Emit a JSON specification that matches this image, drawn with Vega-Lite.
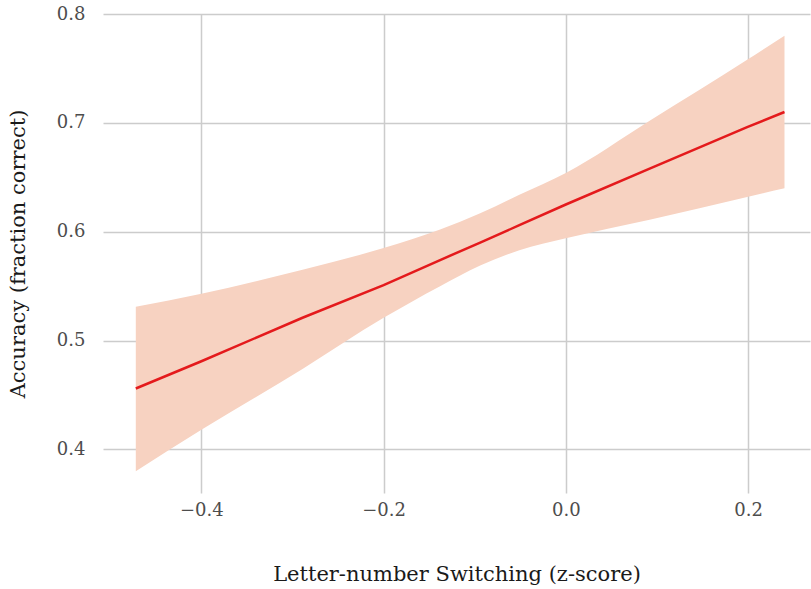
{
  "$schema": "https://vega.github.io/schema/vega-lite/v6.json",
  "width": 707,
  "height": 479,
  "autosize": "none",
  "padding": {"left": 103, "top": 14, "right": 1, "bottom": 96},
  "background": "white",
  "config": {
    "view": {"stroke": null},
    "font": "DejaVu Serif",
    "axis": {
      "domain": false,
      "ticks": false,
      "gridColor": "#cccccc",
      "gridWidth": 1.5,
      "labelFont": "DejaVu Serif",
      "labelFontSize": 18,
      "labelColor": "#4d4d4d",
      "titleFont": "DejaVu Serif",
      "titleFontSize": 21,
      "titleFontWeight": "normal",
      "titleColor": "#1a1a1a"
    }
  },
  "data": {
    "values": [
      {"x": -0.472, "lo": 0.380, "hi": 0.531, "fit": 0.456},
      {"x": -0.400, "lo": 0.418, "hi": 0.543, "fit": 0.481},
      {"x": -0.289, "lo": 0.474, "hi": 0.565, "fit": 0.521},
      {"x": -0.200, "lo": 0.521, "hi": 0.585, "fit": 0.551},
      {"x": -0.138, "lo": 0.550, "hi": 0.602, "fit": 0.574},
      {"x": -0.094, "lo": 0.569, "hi": 0.617, "fit": 0.590},
      {"x": -0.051, "lo": 0.583, "hi": 0.634, "fit": 0.606},
      {"x": 0.000, "lo": 0.594, "hi": 0.654, "fit": 0.625},
      {"x": 0.092, "lo": 0.611, "hi": 0.702, "fit": 0.658},
      {"x": 0.199, "lo": 0.632, "hi": 0.758, "fit": 0.696},
      {"x": 0.240, "lo": 0.640, "hi": 0.780, "fit": 0.710}
    ]
  },
  "encoding": {
    "x": {
      "field": "x",
      "type": "quantitative",
      "scale": {"domain": [-0.508, 0.268], "nice": false, "zero": false},
      "axis": {
        "values": [-0.4, -0.2, 0.0, 0.2],
        "format": ".1f",
        "labelPadding": 8,
        "titlePadding": 44,
        "title": "Letter-number Switching (z-score)"
      }
    }
  },
  "layer": [
    {
      "mark": {"type": "area", "color": "#f7d2c1", "opacity": 1, "interpolate": "monotone"},
      "encoding": {
        "y": {
          "field": "lo",
          "type": "quantitative",
          "scale": {"domain": [0.36, 0.8], "nice": false, "zero": false},
          "axis": {
            "values": [0.4, 0.5, 0.6, 0.7, 0.8],
            "format": ".1f",
            "labelPadding": 18,
            "titlePadding": 28,
            "title": "Accuracy (fraction correct)"
          }
        },
        "y2": {"field": "hi"}
      }
    },
    {
      "mark": {"type": "line", "color": "#e41a1c", "strokeWidth": 2.5},
      "encoding": {
        "y": {"field": "fit", "type": "quantitative"}
      }
    }
  ]
}
